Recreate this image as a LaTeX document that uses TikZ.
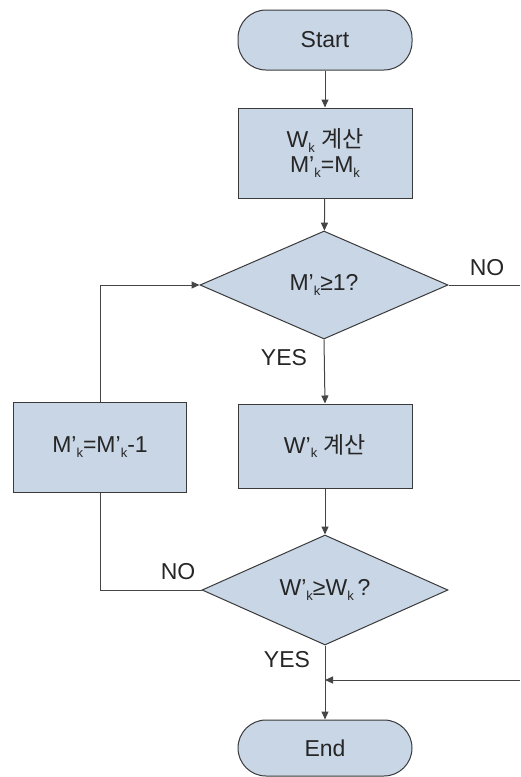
\documentclass[tikz,border=0pt]{standalone}
\usepackage{fontspec}
\setmainfont{Liberation Sans}
\newfontfamily\krfont{Noto Sans CJK KR}
\usetikzlibrary{shapes.geometric,arrows.meta}
\definecolor{boxfill}{HTML}{C9D6E6}
\definecolor{boxline}{HTML}{3A3A3A}
\definecolor{conn}{HTML}{454545}
\newcommand{\subk}{\raisebox{-0.35ex}{\fontsize{13}{13}\selectfont k}}
\newcommand{\kr}[1]{{\krfont\fontsize{23}{23}\selectfont #1}}
\begin{document}
\begin{tikzpicture}[x=1pt,y=1pt,
  every node/.style={font=\fontsize{23}{27}\selectfont, text=black!85},
  terminal/.style={draw=boxline, line width=1pt, fill=boxfill, rectangle, rounded corners=28pt, minimum width=174pt, inner sep=0pt},
  procbox/.style={draw=boxline, line width=1pt, fill=boxfill, rectangle, minimum width=174pt, inner sep=0pt, align=center},
  decision/.style={draw=boxline, line width=1pt, fill=boxfill, diamond, inner sep=0pt, aspect=2.3},
  conline/.style={draw=conn, line width=1pt},
  arr/.style={conline, -{Triangle[length=8pt,width=7pt]}},
  lbl/.style={font=\fontsize{23}{27}\selectfont, inner sep=0pt}
]
\useasboundingbox (0,0) rectangle (520,-777);

\node[terminal, minimum height=60pt] (start) at (325,-40) {Start};
\node[procbox, minimum height=90pt] (box1) at (325,-153) {W\subk\ \kr{계산}\\[-2pt] M’\subk=M\subk};
\node[decision, minimum width=248pt, minimum height=108pt] (d1) at (324,-285) {M’\subk≥1?};
\node[procbox, minimum height=84pt] (box2) at (325,-446) {W’\subk\ \kr{계산}};
\node[decision, minimum width=246pt, minimum height=110pt] (d2) at (325,-590) {W’\subk≥W\subk\,?};
\node[procbox, minimum width=173pt, minimum height=90pt] (box3) at (100,-447) {M’\subk=M’\subk-1};
\node[terminal, minimum height=56pt] (end) at (325,-748) {End};

\coordinate (noend) at (520,-285);
\coordinate (d1corner) at (100,-285);
\coordinate (d2corner) at (100,-590);
\coordinate (joinin) at (520,-680);
\coordinate (join) at (325,-680);

\draw[arr] (start) -- (box1);
\draw[arr] (box1) -- (d1);
\draw[conline] (d1.east) -- (noend);
\draw[arr] (d1.south) -- (box2.north);
\draw[arr] (box2) -- (d2);
\draw[conline] (d2.west) -- (d2corner) -- (box3.south);
\draw[arr] (box3.north) -- (d1corner) -- (d1.west);
\draw[arr] (d2.south) -- (end.north);
\draw[arr] (joinin) -- (join);

\node[lbl] (no1) at (487,-268) {NO};
\node[lbl] (yes1) at (284,-358) {YES};
\node[lbl] (no2) at (178,-572) {NO};
\node[lbl] (yes2) at (287,-660) {YES};
\end{tikzpicture}
\end{document}
